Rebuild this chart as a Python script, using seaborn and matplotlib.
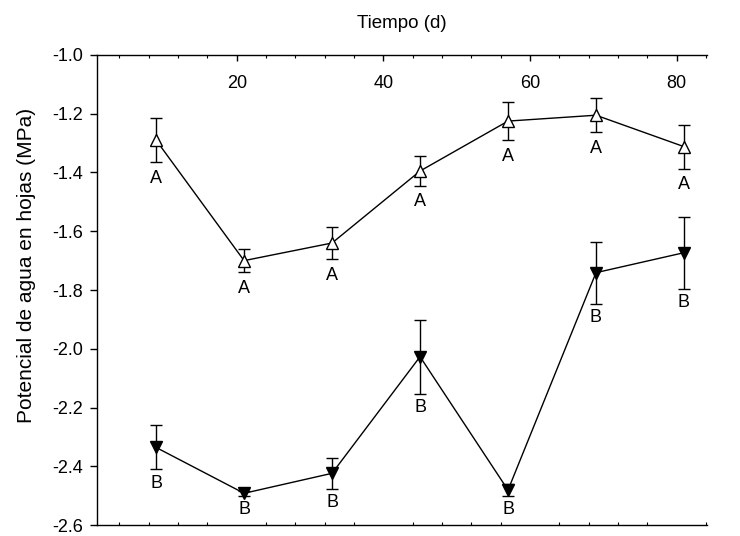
import matplotlib
matplotlib.use("Agg")
import matplotlib.pyplot as plt
from matplotlib.ticker import MultipleLocator
import seaborn as sns
import pandas as pd

# Data
dias = [9, 21, 33, 45, 57, 69, 81]
control = [-1.29, -1.70, -1.64, -1.395, -1.225, -1.205, -1.312]
control_err = [0.075, 0.04, 0.056, 0.05, 0.065, 0.058, 0.075]
letras_control = ["A", "A", "A", "A", "A", "A", "A"]
estres = [-2.336, -2.492, -2.424, -2.027, -2.481, -1.741, -1.673]
estres_err = [0.075, 0.008, 0.053, 0.126, 0.02, 0.106, 0.122]
letras_estres = ["B", "B", "B", "B", "B", "B", "B"]
x_ticks = [20, 40, 60, 80]
y_ticks = [-1.0, -1.2, -1.4, -1.6, -1.8, -2.0, -2.2, -2.4, -2.6]

sns.set_style("ticks")
plt.rcParams["font.family"] = ["Liberation Sans", "DejaVu Sans"]
plt.rcParams.update({"text.color": "black", "axes.labelcolor": "black",
                     "xtick.color": "black", "ytick.color": "black",
                     "axes.edgecolor": "black"})

df = pd.DataFrame({
    "dia": dias * 2,
    "psi": control + estres,
    "err": control_err + estres_err,
    "trat": ["control"] * len(dias) + ["estres"] * len(dias),
})

fig = plt.figure(figsize=(7.4, 5.36), dpi=100)
ax = fig.add_axes([0.1307, 0.0205, 0.955 - 0.1307, 0.8769])

# error bars (behind markers)
for trat in ["control", "estres"]:
    d = df[df.trat == trat]
    ax.errorbar(d.dia, d.psi, yerr=d.err, fmt="none", ecolor="black",
                elinewidth=1.0, capsize=4.6, capthick=1.0, zorder=2)

sns.lineplot(data=df, x="dia", y="psi", style="trat", hue="trat",
             palette={"control": "black", "estres": "black"},
             dashes=False, markers={"control": "^", "estres": "v"},
             markersize=8.5, linewidth=1.0, legend=False, ax=ax, zorder=3)

# marker fill: white for control, black for stress
lines = [l for l in ax.get_lines() if l.get_marker() in ("^", "v")]
for l in lines:
    l.set_markeredgecolor("black")
    l.set_markeredgewidth(1.0)
    if l.get_marker() == "^":
        l.set_markerfacecolor("white")
    else:
        l.set_markerfacecolor("black")
    l.set_zorder(4)

# significance letters
for x, y, e, t in zip(dias, control, control_err, letras_control):
    ax.annotate(t, (x, y - e), xytext=(0, -16), textcoords="offset pixels",
                ha="center", va="center", fontsize=13, color="black")
for x, y, e, t in zip(dias, estres, estres_err, letras_estres):
    ax.annotate(t, (x, y - e), xytext=(0, -14), textcoords="offset pixels",
                ha="center", va="center", fontsize=13, color="black")

ax.set_xlim(0.9, 84.1)
ax.set_ylim(-2.6, -1.0)
ax.set_yticks(y_ticks)
ax.set_yticklabels([f"{v:.1f}" for v in y_ticks])
ax.set_xticks(x_ticks)
ax.set_xticklabels([str(v) for v in x_ticks])
ax.xaxis.set_minor_locator(MultipleLocator(4))

ax.tick_params(axis="x", which="major", top=True, bottom=False,
               labeltop=True, labelbottom=False, direction="in",
               length=4.5, width=1.0, pad=-26.5, labelsize=13)
ax.tick_params(axis="x", which="minor", top=True, bottom=True,
               direction="in", length=2.2, width=0.8)
ax.tick_params(axis="y", which="major", left=True, direction="out",
               length=5, width=1.0, labelsize=13, pad=5)

for s in ["top", "bottom", "left"]:
    ax.spines[s].set_linewidth(1.0)
    ax.spines[s].set_color("black")
ax.spines["right"].set_visible(False)

ax_w = (0.955 - 0.1307) * 740
ax_h = 0.8769 * 536
ax.set_xlabel("Tiempo (d)", fontsize=13.5)
ax.xaxis.set_label_position("top")
ax.xaxis.set_label_coords(0.5, 1.0 + (55 - 28) / ax_h)
ax.set_ylabel("Potencial de agua en hojas (MPa)", fontsize=15)
ax.yaxis.set_label_coords(-(97 - 36) / ax_w, 1 - (265 - 55) / ax_h)

fig.savefig("out.png", dpi=100, facecolor="white")
